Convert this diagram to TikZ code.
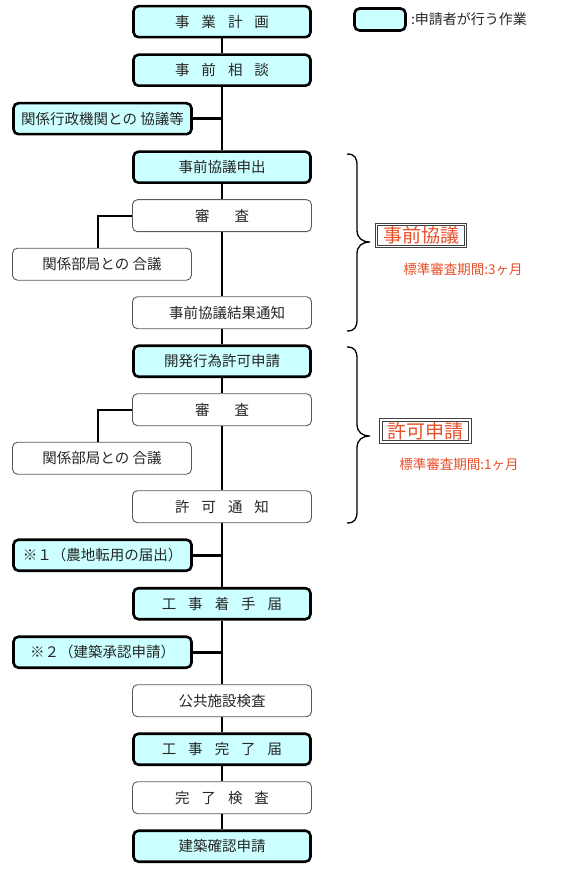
\documentclass[tikz,border=0pt]{standalone}
\usepackage{fontspec}
\setmainfont{Noto Sans CJK JP}
\definecolor{appfill}{RGB}{204,255,255}
\definecolor{lblred}{RGB}{232,78,40}
\newcommand\gapA{\hspace{12pt}}
\newcommand\gapB{\hspace{25pt}}
\begin{document}
\begin{tikzpicture}[x=1pt,y=-1pt,
  base/.style={rounded corners=5pt, inner sep=0pt, align=center,
    font=\fontsize{14.5}{16}\selectfont, text=black!85},
  appbox/.style={base, draw=black, line width=2.6pt, fill=appfill,
    minimum width=177pt, minimum height=31pt},
  plainbox/.style={base, draw=black!65, line width=0.9pt, fill=white,
    minimum width=179pt, minimum height=32pt},
  conn/.style={line width=2.6pt, black},
  thinconn/.style={line width=2pt, black},
  bracestyle/.style={line width=1.3pt, black},
  tagbox/.style={draw=black!75, double=white, double distance=1.1pt, line width=1pt,
    inner sep=0pt, minimum width=89pt, minimum height=22pt, text=lblred,
    font=\fontsize{19}{21}\selectfont},
  periodtext/.style={inner sep=0pt, text=lblred, font=\fontsize{13.5}{15}\selectfont},
  legendtext/.style={inner sep=0pt, anchor=west, text=black!85, font=\fontsize{14}{16}\selectfont}]
\useasboundingbox (0,0) rectangle (581,885);

% main column
\node[appbox]   (n0)  at (222,21.7)  {事\gapA 業\gapA 計\gapA 画};
\node[appbox]   (n1)  at (222,70.2)  {事\gapA 前\gapA 相\gapA 談};
\node[appbox]   (n3)  at (222,167.2) {事前協議申出};
\node[plainbox] (n4)  at (222,215.7) {審\gapB 査};
\node[plainbox] (n6)  at (222,312.7) {\hspace*{10pt}事前協議結果通知};
\node[appbox]   (n7)  at (222,361.2) {開発行為許可申請};
\node[plainbox] (n8)  at (222,409.7) {審\gapB 査};
\node[plainbox] (n10) at (222,506.7) {許\gapA 可\gapA 通\gapA 知};
\node[appbox]   (n12) at (222,603.7) {工\gapA 事\gapA 着\gapA 手\gapA 届};
\node[plainbox] (n14) at (222,700.7) {公共施設検査};
\node[appbox]   (n15) at (222,749.2) {工\gapA 事\gapA 完\gapA 了\gapA 届};
\node[plainbox] (n16) at (222,797.7) {完\gapA 了\gapA 検\gapA 査};
\node[appbox]   (n17) at (222,846.2) {建築確認申請};

% side boxes
\node[appbox, minimum width=178pt]   (s2)  at (102.5,118.7) {関係行政機関との 協議等};
\node[plainbox, minimum width=179pt] (s5)  at (102,264.2)   {関係部局との 合議};
\node[plainbox, minimum width=179pt] (s9)  at (102,458.2)   {関係部局との 合議};
\node[appbox, minimum width=178pt]   (s11) at (102.5,555.2) {※１（農地転用の届出）};
\node[appbox, minimum width=178pt]   (s13) at (102.5,652.2) {※２（建築承認申請）};

% vertical connectors
\draw[conn] (n0.south) -- (n1.north);
\draw[conn] (n1.south) -- (n3.north);
\draw[conn] (n3.south) -- (n4.north);
\draw[conn] (n4.south) -- (n6.north);
\draw[conn] (n6.south) -- (n7.north);
\draw[conn] (n7.south) -- (n8.north);
\draw[conn] (n8.south) -- (n10.north);
\draw[conn] (n10.south) -- (n12.north);
\draw[conn] (n12.south) -- (n14.north);
\draw[conn] (n14.south) -- (n15.north);
\draw[conn] (n15.south) -- (n16.north);
\draw[conn] (n16.south) -- (n17.north);

% side connectors
\draw[conn] (s2.east) -- (s2.east -| n1.south);
\draw[conn] (s11.east) -- (s11.east -| n10.south);
\draw[conn] (s13.east) -- (s13.east -| n12.south);
\draw[thinconn] (n4.west) -| ([xshift=-4pt]s5.north);
\draw[thinconn] (n8.west) -| ([xshift=-4pt]s9.north);

% legend
\node[appbox, minimum width=51pt, minimum height=22pt] (leg) at (380,19.5) {};
\node[legendtext] (legt) at ([xshift=4pt]leg.east) {:申請者が行う作業};

% braces
\draw[bracestyle] (347,154) .. controls (355,154) and (357,158) .. (357,166)
  -- (357,230) .. controls (357,238) and (362,242) .. (370,242)
  .. controls (362,242) and (357,246) .. (357,254)
  -- (357,319) .. controls (357,327) and (355,331) .. (347,331);
\draw[bracestyle] (347,347) .. controls (355,347) and (357,351) .. (357,359)
  -- (357,424) .. controls (357,432) and (362,436) .. (370,436)
  .. controls (362,436) and (357,440) .. (357,448)
  -- (357,511) .. controls (357,519) and (355,523) .. (347,523);

% phase labels
\node[tagbox] (tag1) at (421,235.5) {事前協議};
\node[periodtext] (per1) at (463,269) {標準審査期間:3ヶ月};
\node[tagbox] (tag2) at (425.5,431) {許可申請};
\node[periodtext] (per2) at (459,464) {標準審査期間:1ヶ月};
\end{tikzpicture}
\end{document}
